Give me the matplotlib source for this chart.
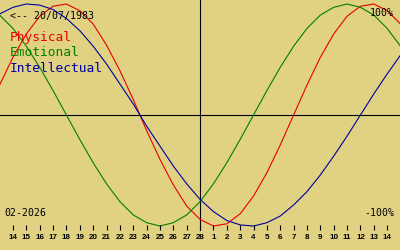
import matplotlib
matplotlib.use("Agg")
import matplotlib.pyplot as plt

# days shown: Feb 13 .. Mar 15 2026 (index -1 .. 29), ticks Feb 14 .. Mar 14
day_idx = list(range(-1, 30))
tick_idx = list(range(0, 29))
tick_labels = [str(d) for d in range(14, 29)] + [str(d) for d in range(1, 15)]
today_idx = 14

physical = [0.27, 0.52, 0.73, 0.89, 0.98, 1.00, 0.94, 0.82, 0.63, 0.40, 0.14,
            -0.14, -0.40, -0.63, -0.82, -0.94, -1.00, -0.98, -0.89, -0.73, -0.52,
            -0.27, 0.00, 0.27, 0.52, 0.73, 0.89, 0.98, 1.00, 0.94, 0.82]
emotional = [0.90, 0.78, 0.62, 0.43, 0.22, 0.00, -0.22, -0.43, -0.62, -0.78,
             -0.90, -0.97, -1.00, -0.97, -0.90, -0.78, -0.62, -0.43, -0.22,
             0.00, 0.22, 0.43, 0.62, 0.78, 0.90, 0.97, 1.00, 0.97, 0.90, 0.78, 0.62]
intellectual = [0.91, 0.97, 1.00, 0.99, 0.95, 0.87, 0.76, 0.62, 0.46, 0.28, 0.10,
                -0.10, -0.28, -0.46, -0.62, -0.76, -0.87, -0.95, -0.99, -1.00,
                -0.97, -0.91, -0.81, -0.69, -0.54, -0.37, -0.19, 0.00, 0.19, 0.37, 0.54]

series = [("Physical", physical, "#e80000"),
          ("Emotional", emotional, "#008000"),
          ("Intellectual", intellectual, "#0000a0")]

bg = "#e0d282"
mono = "DejaVu Sans Mono"

fig = plt.figure(figsize=(4, 2.5), dpi=100, facecolor=bg)
ax = fig.add_axes([0, 0, 1, 1])
ax.set_facecolor(bg)
ax.set_xlim(-0.97, 28.96)
ax.set_ylim(-1.216, 1.036)
ax.axis("off")

# axes cross
ax.axhline(0, color="black", lw=0.8)
ax.plot([today_idx, today_idx], [1.1, -1.036], color="black", lw=0.8)

for name, vals, col in series:
    ax.plot(day_idx, vals, color=col, lw=0.8)

# day ticks along the bottom
xt = ax.get_xaxis_transform()
ax.vlines(tick_idx, 0.08, 0.1, color="black", lw=0.8, transform=xt)
for t, lab in zip(tick_idx, tick_labels):
    ax.text(t, 0.049, lab, transform=xt, ha="center", va="center",
            family="Liberation Sans", fontsize=5.8, fontweight="bold", color="black")

# labels
ax.text(0.025, 0.934, "<-- 20/07/1983", transform=ax.transAxes, family=mono,
        fontsize=7.1, va="center", ha="left", color="black")
for k, (name, vals, col) in enumerate(series):
    ax.text(0.025, 0.848 - k * 0.06, name, transform=ax.transAxes, family=mono,
            fontsize=9.3, va="center", ha="left", color=col)
ax.text(0.985, 0.948, "100%", transform=ax.transAxes, family=mono,
        fontsize=7.1, va="center", ha="right", color="black")
ax.text(0.985, 0.148, "-100%", transform=ax.transAxes, family=mono,
        fontsize=7.1, va="center", ha="right", color="black")
ax.text(0.01, 0.148, "02-2026", transform=ax.transAxes, family=mono,
        fontsize=7.1, va="center", ha="left", color="black")

fig.savefig("out.png", dpi=100, facecolor=bg)
